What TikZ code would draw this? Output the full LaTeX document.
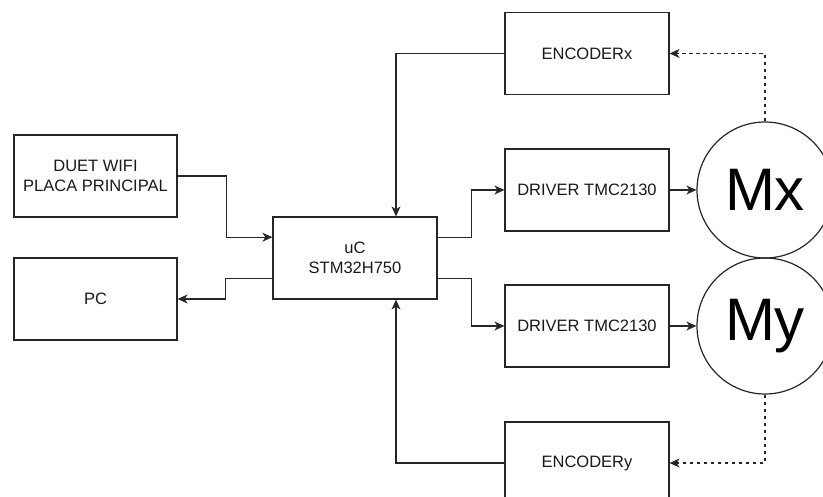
\documentclass[tikz,border=0pt]{standalone}
\usepackage{fontspec}
\setmainfont{Liberation Sans}
\usetikzlibrary{arrows.meta,calc}
\begin{document}
\begin{tikzpicture}[x=1pt,y=-1pt,
  blk/.style={draw=black!85,line width=1.2pt,rectangle,inner sep=0pt,minimum width=164pt,minimum height=82pt,
    font=\fontsize{16.5pt}{20pt}\selectfont,align=center,text=black!90},
  mot/.style={draw=black!85,line width=1.2pt,circle,inner sep=0pt,minimum size=136pt,
    font=\fontsize{60pt}{64pt}\selectfont},
  arr/.style={line width=1.2pt,draw=black!85,-{Stealth[length=10pt,width=9pt,inset=3pt]}},
  dsh/.style={arr,dash pattern=on 3.5pt off 3.5pt}]
\useasboundingbox (0,0) rectangle (823,497);
\clip (0,0) rectangle (823,497);
\node[blk] (encx) at (587,53.5) {ENCODERx};
\node[blk,minimum width=163pt] (duet) at (95.5,176) {DUET WIFI\\PLACA PRINCIPAL};
\node[blk,minimum width=163pt] (pc) at (95.5,299) {PC};
\node[blk] (uc) at (355,258) {uC\\STM32H750};
\node[blk] (drvx) at (587,190) {DRIVER TMC2130};
\node[blk] (drvy) at (587,326) {DRIVER TMC2130};
\node[blk] (ency) at (587,463) {ENCODERy};
\node[mot] (mx) at (765,190) {Mx};
\node[mot] (my) at (765,326) {My};
\coordinate (vx) at (396,0);
\coordinate (ui1) at ($(uc.north west)!0.25!(uc.south west)$);
\coordinate (ui2) at ($(uc.north west)!0.75!(uc.south west)$);
\coordinate (uo1) at ($(uc.north east)!0.25!(uc.south east)$);
\coordinate (uo2) at ($(uc.north east)!0.75!(uc.south east)$);
\draw[arr] (encx.west) -| (vx |- uc.north);
\draw[arr] (ency.west) -| (vx |- uc.south);
\draw[arr] (duet.east) -- ++(49,0) |- (ui1);
\draw[arr] (ui2) -- ++(-47,0) |- (pc.east);
\draw[arr] (uo1) -- ++(34,0) |- (drvx.west);
\draw[arr] (uo2) -- ++(34,0) |- (drvy.west);
\draw[arr] (drvx.east) -- (mx.west);
\draw[arr] (drvy.east) -- (my.west);
\draw[dsh] (mx.north) |- (encx.east);
\draw[dsh] (my.south) |- (ency.east);
\end{tikzpicture}
\end{document}
